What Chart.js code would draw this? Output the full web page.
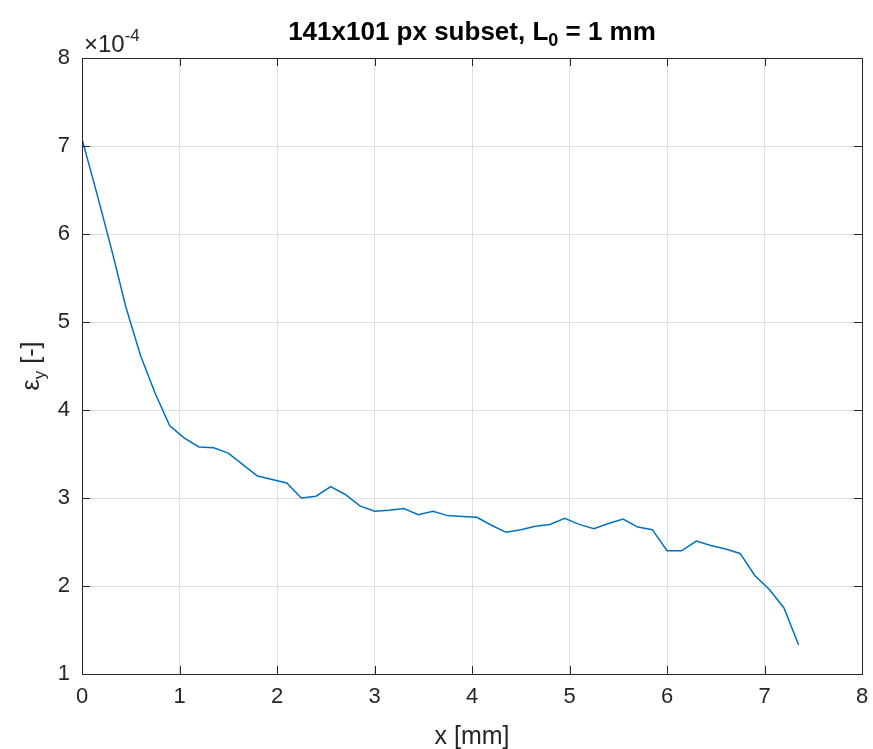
<!DOCTYPE html>
<html>
<head>
<meta charset="utf-8">
<script src="https://cdn.jsdelivr.net/npm/chart.js@4/dist/chart.umd.min.js"></script>
<style>
  html, body { margin: 0; padding: 0; background: #fff; }
  #wrap { width: 873px; height: 749px; }
</style>
</head>
<body>
<div id="wrap"><canvas id="chart1" width="873" height="749"></canvas></div>
<script>
// x positions along the subset [mm]
const xValues = [0, 0.15, 0.3, 0.45, 0.6, 0.75, 0.9, 1.05, 1.2, 1.35, 1.5, 1.65, 1.8, 1.95, 2.1, 2.25,
    2.4, 2.55, 2.7, 2.85, 3.0, 3.15, 3.3, 3.45, 3.6, 3.75, 3.9, 4.05, 4.2, 4.35, 4.5, 4.65, 4.8, 4.95,
    5.1, 5.25, 5.4, 5.55, 5.7, 5.85, 6.0, 6.15, 6.3, 6.45, 6.6, 6.75, 6.9, 7.05, 7.2, 7.35];
// strain eps_y, in units of 1e-4
const epsY = [7.08, 6.47, 5.84, 5.17, 4.62, 4.19, 3.82, 3.68, 3.58, 3.57, 3.51, 3.38, 3.25, 3.21, 3.17, 3.00,
    3.02, 3.13, 3.04, 2.91, 2.85, 2.86, 2.88, 2.81, 2.85, 2.80, 2.79, 2.78, 2.69, 2.61, 2.64, 2.68, 2.70, 2.77,
    2.70, 2.65, 2.71, 2.76, 2.67, 2.64, 2.40, 2.40, 2.51, 2.46, 2.42, 2.37, 2.12, 1.96, 1.75, 1.33];
const xTicks = [0, 1, 2, 3, 4, 5, 6, 7, 8];
const yTicks = [1, 2, 3, 4, 5, 6, 7, 8];
const yExponent = '-4';

const axisColor = '#262626';
const font = 'Liberation Sans, Arial, sans-serif';

const points = xValues.map(function(x, i){ return {x: x, y: epsY[i]}; });

// draws the box, inward ticks, title, labels and exponent
const matlabAxes = {
    id: 'matlabAxes',
    afterDraw: function(chart){
        const c = chart.ctx;
        const a = chart.chartArea;
        const sx = chart.scales.x, sy = chart.scales.y;
        c.save();
        c.strokeStyle = axisColor;
        c.lineWidth = 1;
        c.strokeRect(Math.round(a.left) + 0.5, Math.round(a.top) + 0.5,
            Math.round(a.right - a.left), Math.round(a.bottom - a.top));
        c.beginPath();
        xTicks.forEach(function(t){
            const px = Math.round(sx.getPixelForValue(t)) + 0.5;
            c.moveTo(px, a.bottom); c.lineTo(px, a.bottom - 8);
            c.moveTo(px, a.top); c.lineTo(px, a.top + 8);
        });
        yTicks.forEach(function(t){
            const py = Math.round(sy.getPixelForValue(t)) + 0.5;
            c.moveTo(a.left, py); c.lineTo(a.left + 8, py);
            c.moveTo(a.right, py); c.lineTo(a.right - 8, py);
        });
        c.stroke();

        c.fillStyle = '#000';
        // title with subscript
        c.font = 'bold 26px ' + font;
        c.textBaseline = 'alphabetic';
        const t1 = '141x101 px subset, L', t3 = ' = 1 mm';
        const w1 = c.measureText(t1).width, w3 = c.measureText(t3).width;
        c.font = 'bold 18px ' + font;
        const w2 = c.measureText('0').width;
        let tx = (a.left + a.right) / 2 - (w1 + w2 + w3) / 2;
        const ty = 40;
        c.font = 'bold 26px ' + font;
        c.textAlign = 'left';
        c.fillText(t1, tx, ty);
        c.font = 'bold 18px ' + font;
        c.fillText('0', tx + w1, ty + 6);
        c.font = 'bold 26px ' + font;
        c.fillText(t3, tx + w1 + w2, ty);

        c.fillStyle = axisColor;
        // x label
        c.font = '25px ' + font;
        c.textAlign = 'center';
        c.fillText('x [mm]', (a.left + a.right) / 2, 744);

        // y label with subscript, rotated
        c.save();
        c.translate(39, (a.top + a.bottom) / 2);
        c.rotate(-Math.PI / 2);
        c.font = '25px ' + font;
        const e1 = c.measureText('ε').width, e3 = c.measureText(' [-]').width;
        c.font = '17px ' + font;
        const e2 = c.measureText('y').width;
        let lx = -(e1 + e2 + e3) / 2;
        c.textAlign = 'left';
        c.font = '25px ' + font;
        c.fillText('ε', lx, 0);
        c.font = '17px ' + font;
        c.fillText('y', lx + e1, 6);
        c.font = '25px ' + font;
        c.fillText(' [-]', lx + e1 + e2, 0);
        c.restore();

        // exponent
        c.textAlign = 'left';
        c.font = '24px ' + font;
        c.fillText('\u00d710', a.left + 2, 52);
        const ew = c.measureText('\u00d710').width;
        c.font = '17px ' + font;
        c.fillText(yExponent, a.left + 2 + ew, 41);
        c.restore();
    }
};

const data = {
    datasets: [{
        label: 'eps_y',
        data: points,
        borderColor: '#0072BD',
        borderWidth: 1.5,
        pointRadius: 0,
        fill: false,
        tension: 0
    }]
};

const config = {
    type: 'line',
    data: data,
    options: {
        responsive: false,
        animation: false,
        events: [],
        layout: { padding: { left: 0, top: 58, right: 11, bottom: 0 } },
        plugins: {
            legend: { display: false },
            title: { display: false },
            tooltip: { enabled: false }
        },
        scales: {
            x: {
                type: 'linear',
                min: 0, max: 8,
                afterBuildTicks: function(s){ s.ticks = xTicks.map(function(v){ return {value: v}; }); },
                afterFit: function(s){ s.height = 75; s.paddingLeft = 0; s.paddingRight = 0; },
                grid: { color: '#dfdfdf', drawTicks: false },
                border: { display: false },
                ticks: { color: axisColor, font: { family: font, size: 22 }, padding: 10, maxRotation: 0 }
            },
            y: {
                type: 'linear',
                min: 1, max: 8,
                afterBuildTicks: function(s){ s.ticks = yTicks.map(function(v){ return {value: v}; }); },
                afterFit: function(s){ s.width = 82; s.paddingTop = 0; s.paddingBottom = 0; },
                grid: { color: '#dfdfdf', drawTicks: false },
                border: { display: false },
                ticks: { color: axisColor, font: { family: font, size: 22 }, padding: 12 }
            }
        }
    },
    plugins: [matlabAxes]
};

const myChart = new Chart(document.getElementById('chart1'), config);
</script>
</body>
</html>
